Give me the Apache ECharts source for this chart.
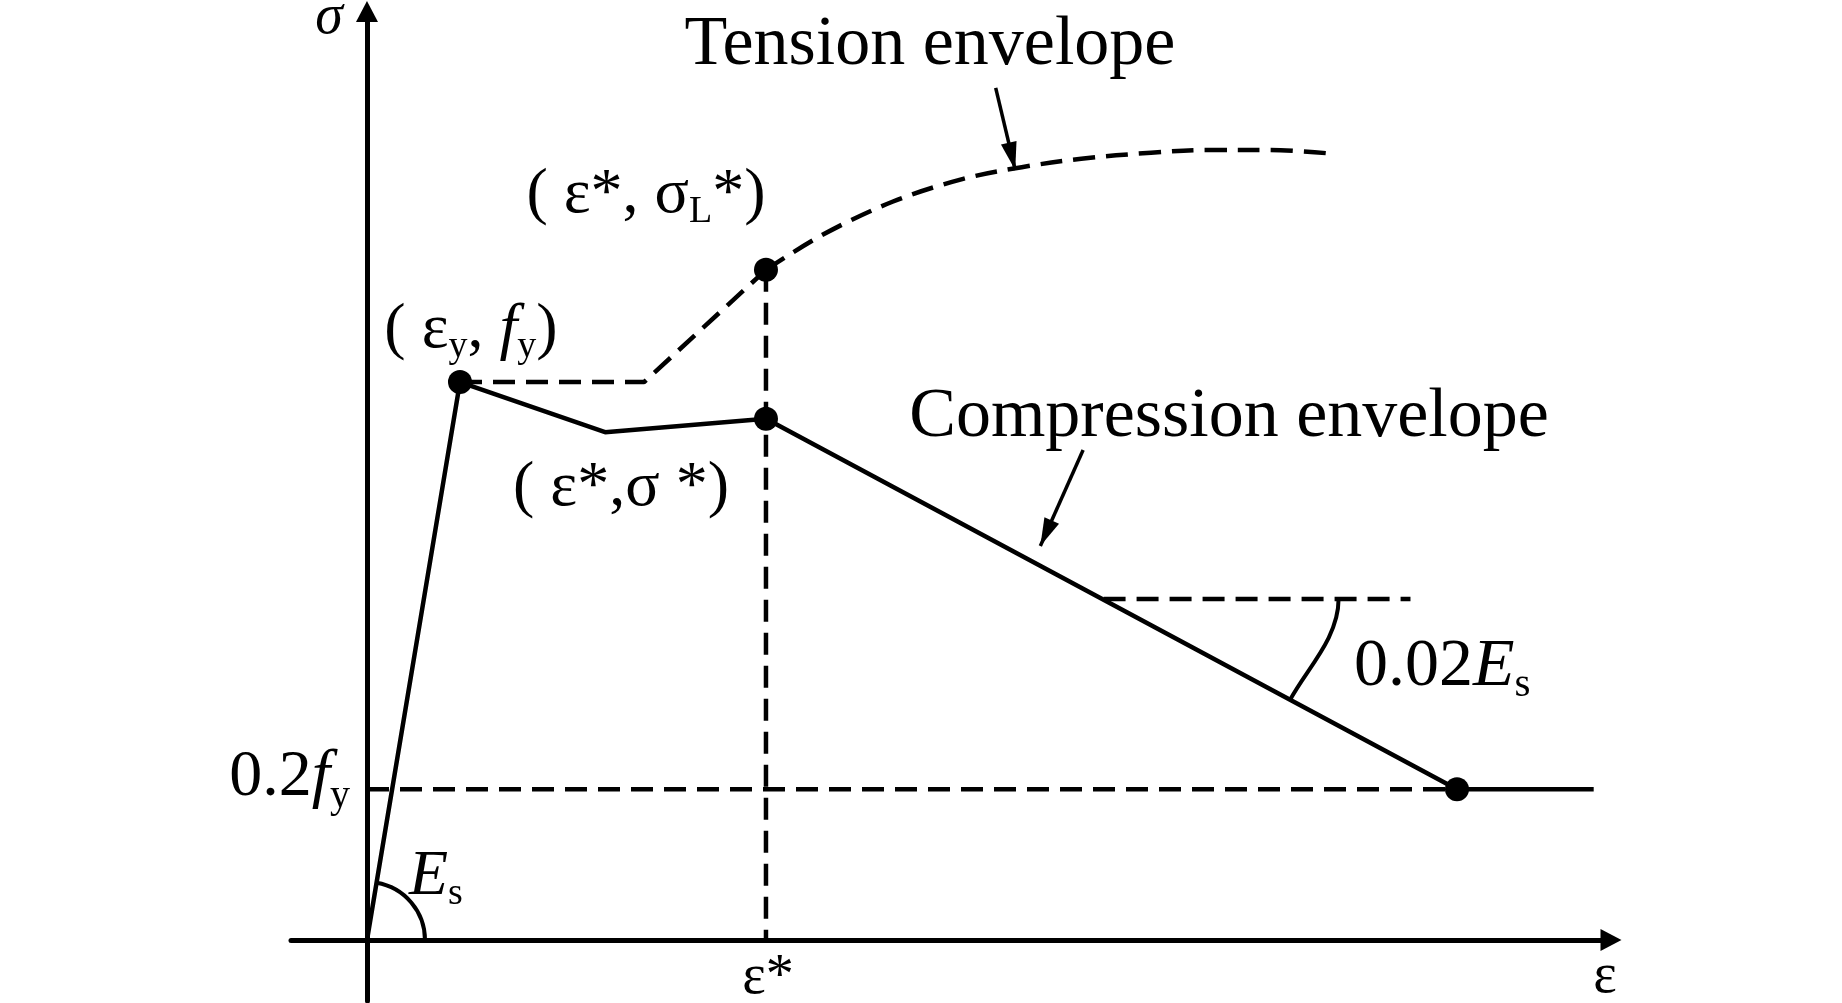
<!DOCTYPE html>
<html><head><meta charset="utf-8">
<script src="https://cdn.jsdelivr.net/npm/echarts@6/dist/echarts.min.js"></script>
<style>html,body{margin:0;padding:0;background:#fff}#c{width:1842px;height:1003px}</style>
</head><body><div id="c"></div>
<script>
// strain in units of eps_y, stress in units of f_y (schematic)
const compressionStrain = [0, 1, 2.56, 4.29, 11.72, 13.19];
const compressionStress = [0, 1, 0.91, 0.934, 0.27, 0.27];
const tensionRampStrain = [1, 2.98, 4.29];
const tensionRampStress = [1, 1, 1.201];
const tensionCurveStrain = [4.29, 4.89, 5.65, 6.41, 7.04, 7.68, 8.43, 9.06, 9.70, 10.39];
const tensionCurveStress = [1.201, 1.263, 1.323, 1.364, 1.385, 1.400, 1.411, 1.416, 1.416, 1.409];
const keyStrain = [1, 4.29, 4.29, 11.72];
const keyStress = [1, 1.201, 0.934, 0.27];
const epsStar = 4.29;
const epsStarTop = 1.201;
const residualStress = 0.27;
const residualStrain = 11.72;
const slopeRefStrain = [7.92, 11.22];
const slopeRefStress = 0.611;
const tensionArrow = [[6.76, 1.527], [6.97, 1.380]];
const compressionArrow = [[7.70, 0.878], [7.24, 0.706]];
// angle arcs: [centre strain, centre stress, arm1 strain, arm1 stress, arm2 strain, arm2 stress]
const angleArcs = [[0, 0, 1, 0, 1, 1], [7.92, 0.611, 11.22, 0.611, 11.72, 0.27]];
const xRange = [-0.817, 13.376];
const yRange = [-0.1093, 1.664];

const zip = (xs, ys) => xs.map((x, i) => [x, ys[i]]);
const arcRadius = [[58, 58], [235, 212]];
const serif = '"Liberation Serif", "Times New Roman", serif';
const K = '#000';
const dash = [22, 11];

function guide(data) {
  return { type: 'line', data: data, symbol: 'none', silent: true, animation: false,
    lineStyle: { color: K, width: 4.5, type: dash } };
}
function rs(size, italic) {
  return { fontFamily: serif, fontSize: size, fontStyle: italic ? 'italic' : 'normal', fill: K };
}
function sub(size, drop) {
  return { fontFamily: serif, fontSize: size, fill: K, padding: [drop, 0, 0, 0] };
}
function label(x, y, text, size, align, italic) {
  const rich = { n: rs(size, false), i: rs(size, true), s: sub(Math.round(size * 0.6), Math.round(size * 0.55)) };
  return { type: 'text', x: x, y: y, silent: true,
    style: { text: text, rich: rich, fontFamily: serif, fontSize: size, fontStyle: italic ? 'italic' : 'normal',
      fill: K, align: align || 'center', verticalAlign: 'middle' } };
}

const chart = echarts.init(document.getElementById('c'), null, { renderer: 'canvas' });
chart.setOption({
  backgroundColor: '#fff',
  animation: false,
  grid: { left: 291, right: 231, top: 11.5, bottom: 2, containLabel: false },
  xAxis: { type: 'value', min: xRange[0], max: xRange[1],
    axisLine: { onZero: true, lineStyle: { color: K, width: 5 }, symbol: ['none', 'triangle'], symbolSize: [22, 21] },
    axisTick: { show: false }, axisLabel: { show: false }, splitLine: { show: false } },
  yAxis: { type: 'value', min: yRange[0], max: yRange[1],
    axisLine: { onZero: true, lineStyle: { color: K, width: 5 }, symbol: ['none', 'triangle'], symbolSize: [22, 21] },
    axisTick: { show: false }, axisLabel: { show: false }, splitLine: { show: false } },
  series: [
    guide([[epsStar, epsStarTop], [epsStar, 0]]),
    guide([[0, residualStress], [residualStrain, residualStress]]),
    guide([[slopeRefStrain[0], slopeRefStress], [slopeRefStrain[1], slopeRefStress]]),
    { type: 'line', name: 'Tension envelope', data: zip(tensionRampStrain, tensionRampStress), symbol: 'none',
      lineStyle: { color: K, width: 4.5, type: dash } },
    { type: 'line', name: 'Tension envelope', data: zip(tensionCurveStrain, tensionCurveStress), symbol: 'none', smooth: 0.35,
      lineStyle: { color: K, width: 4.5, type: dash } },
    { type: 'line', name: 'Compression envelope', data: zip(compressionStrain, compressionStress), symbol: 'none',
      lineStyle: { color: K, width: 4.5, type: 'solid' } },
    { type: 'custom', data: angleArcs, silent: true,
      renderItem: function (params, api) {
        const c = api.coord([api.value(0), api.value(1)]);
        const a = api.coord([api.value(2), api.value(3)]);
        const b = api.coord([api.value(4), api.value(5)]);
        const t1 = Math.atan2(a[1] - c[1], a[0] - c[0]);
        const t2 = Math.atan2(b[1] - c[1], b[0] - c[0]);
        const r1 = arcRadius[params.dataIndex][0], r2 = arcRadius[params.dataIndex][1];
        const d = t2 - t1;
        const k = 4 / 3 * Math.tan(d / 4);
        const p0 = [c[0] + r1 * Math.cos(t1), c[1] + r1 * Math.sin(t1)];
        const p3 = [c[0] + r2 * Math.cos(t2), c[1] + r2 * Math.sin(t2)];
        const p1 = [p0[0] - k * r1 * Math.sin(t1), p0[1] + k * r1 * Math.cos(t1)];
        const p2 = [p3[0] + k * r2 * Math.sin(t2), p3[1] - k * r2 * Math.cos(t2)];
        return { type: 'bezierCurve', shape: { x1: p0[0], y1: p0[1], cpx1: p1[0], cpy1: p1[1],
          cpx2: p2[0], cpy2: p2[1], x2: p3[0], y2: p3[1] },
          style: { stroke: K, lineWidth: 4, fill: 'none' } };
      } },
    { type: 'scatter', data: zip(keyStrain, keyStress), symbol: 'circle', symbolSize: 24,
      itemStyle: { color: K, opacity: 1 }, silent: true,
      markLine: { silent: true, animation: false, symbol: ['none', 'triangle'], symbolSize: [16, 28],
        lineStyle: { color: K, width: 3.5, type: 'solid' }, label: { show: false }, emphasis: { disabled: true },
        data: [
          [{ coord: tensionArrow[0] }, { coord: tensionArrow[1], symbolOffset: [0, 14] }],
          [{ coord: compressionArrow[0] }, { coord: compressionArrow[1], symbolOffset: [0, 14] }]
        ] } }
  ],
  graphic: [
    label(329, 18, 'σ', 56, 'center', true),
    label(930, 46, 'Tension envelope', 70),
    label(1229, 418, 'Compression envelope', 70),
    label(646, 195, '{n|( ε*, σ}{s|L}{n|*)}', 64),
    label(471, 330, '{n|( ε}{s|y}{n|, }{i|f}{s|y}{n|)}', 64),
    label(621, 488, '{n|( ε*,σ *)}', 64),
    label(350, 778, '{n|0.2}{i|f}{s|y}', 66, 'right'),
    label(409, 877, '{i|E}{s|s}', 64, 'left'),
    label(1354, 667, '{n|0.02}{i|E}{s|s}', 68, 'left'),
    label(768, 978, 'ε*', 56),
    label(1605, 977, 'ε', 56)
  ]
});
</script></body></html>
